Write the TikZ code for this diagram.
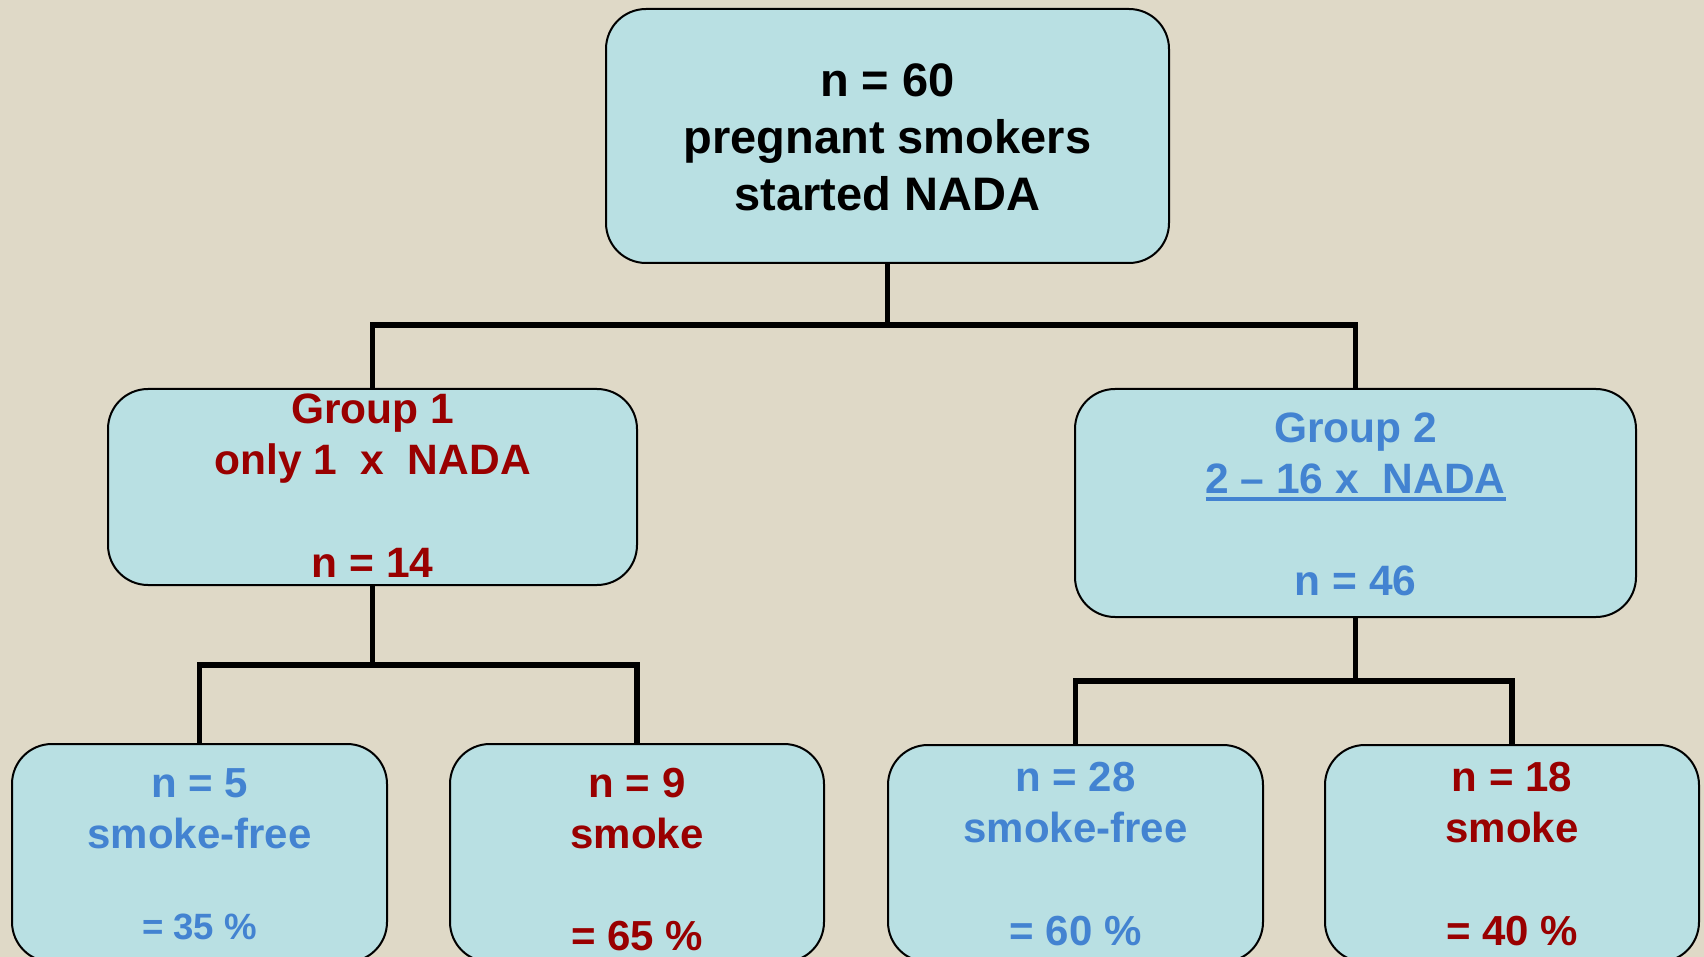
\documentclass[tikz,border=0pt]{standalone}
\usepackage{fontspec}
\setmainfont{Liberation Sans}
\usepackage{tikz}

\definecolor{slidebg}{HTML}{DFD9C7}
\definecolor{boxfill}{HTML}{B9E0E3}
\definecolor{nadared}{HTML}{990000}
\definecolor{nadablue}{HTML}{4383D1}
\newcommand{\ulnada}[1]{\setbox0\hbox{#1}\rlap{\rule[-4pt]{\wd0}{2pt}}\box0}

\begin{document}
\begin{tikzpicture}[x=0.5pt,y=-0.5pt,
   box/.style={draw=black,line width=1pt,fill=boxfill,rounded corners=20pt,inner sep=0pt},
   conn/.style={line width=2.75pt},
   txt/.style={anchor=base,align=center,inner sep=0pt,font=\bfseries\fontsize{21}{25.5}\selectfont}]
   \useasboundingbox (0,0) rectangle (1704,957);
   \clip (0,0) rectangle (1704,957);
   \fill[slidebg] (0,0) rectangle (1704,957);

   \node[box,minimum width=281.5pt,minimum height=127pt] (top) at (887.5,136) {};
   \node[box,minimum width=264.5pt,minimum height=98pt] (grp1) at (372.5,487) {};
   \node[box,minimum width=280.5pt,minimum height=114pt] (grp2) at (1355.5,503) {};
   \node[box,minimum width=187.5pt,minimum height=109pt] (res1) at (199.5,853) {};
   \node[box,minimum width=187pt,minimum height=109pt] (res2) at (637,853) {};
   \node[box,minimum width=187.5pt,minimum height=108.5pt] (res3) at (1075.5,853.5) {};
   \node[box,minimum width=187pt,minimum height=108.5pt] (res4) at (1512,853.5) {};

   \coordinate (j0) at (887.5,325);
   \coordinate (j1) at (372.5,665);
   \coordinate (j2) at (1355.5,681);
   \draw[conn] (top.south) -- (j0) -| (grp1.north);
   \draw[conn] (j0) -| (grp2.north);
   \draw[conn] (grp1.south) -- (j1) -| (res1.north);
   \draw[conn] (j1) -| (res2.north);
   \draw[conn] (grp2.south) -- (j2) -| (res3.north);
   \draw[conn] (j2) -| (res4.north);

   \node[txt,font=\bfseries\fontsize{23.5}{28.5}\selectfont] (toptxt) at (887.5,211) {n = 60\\pregnant smokers\\started NADA};
   \node[txt,text=nadared,font=\bfseries\fontsize{21.25}{25.5}\selectfont] (grp1txt) at (372.5,577) {Group 1\\only 1\ \ x\ \ NADA\\[26pt]n = 14};
   \node[txt,text=nadablue,font=\bfseries\fontsize{21.25}{25.5}\selectfont] (grp2txt) at (1355.5,595) {Group 2\\\ulnada{2 -- 16 x\ \ NADA}\\[25.5pt]n = 46};
   \node[txt,text=nadablue] (res1txt) at (199.5,939) {n = 5\\smoke-free\\[20pt]{\fontsize{18.3}{22}\selectfont = 35 \%}};
   \node[txt,text=nadared] (res2txt) at (637,950) {n = 9\\smoke\\[25.5pt]= 65 \%};
   \node[txt,text=nadablue] (res3txt) at (1075.5,945) {n = 28\\smoke-free\\[26pt]= 60 \%};
   \node[txt,text=nadared] (res4txt) at (1512,945) {n = 18\\smoke\\[26pt]= 40 \%};
\end{tikzpicture}
\end{document}
